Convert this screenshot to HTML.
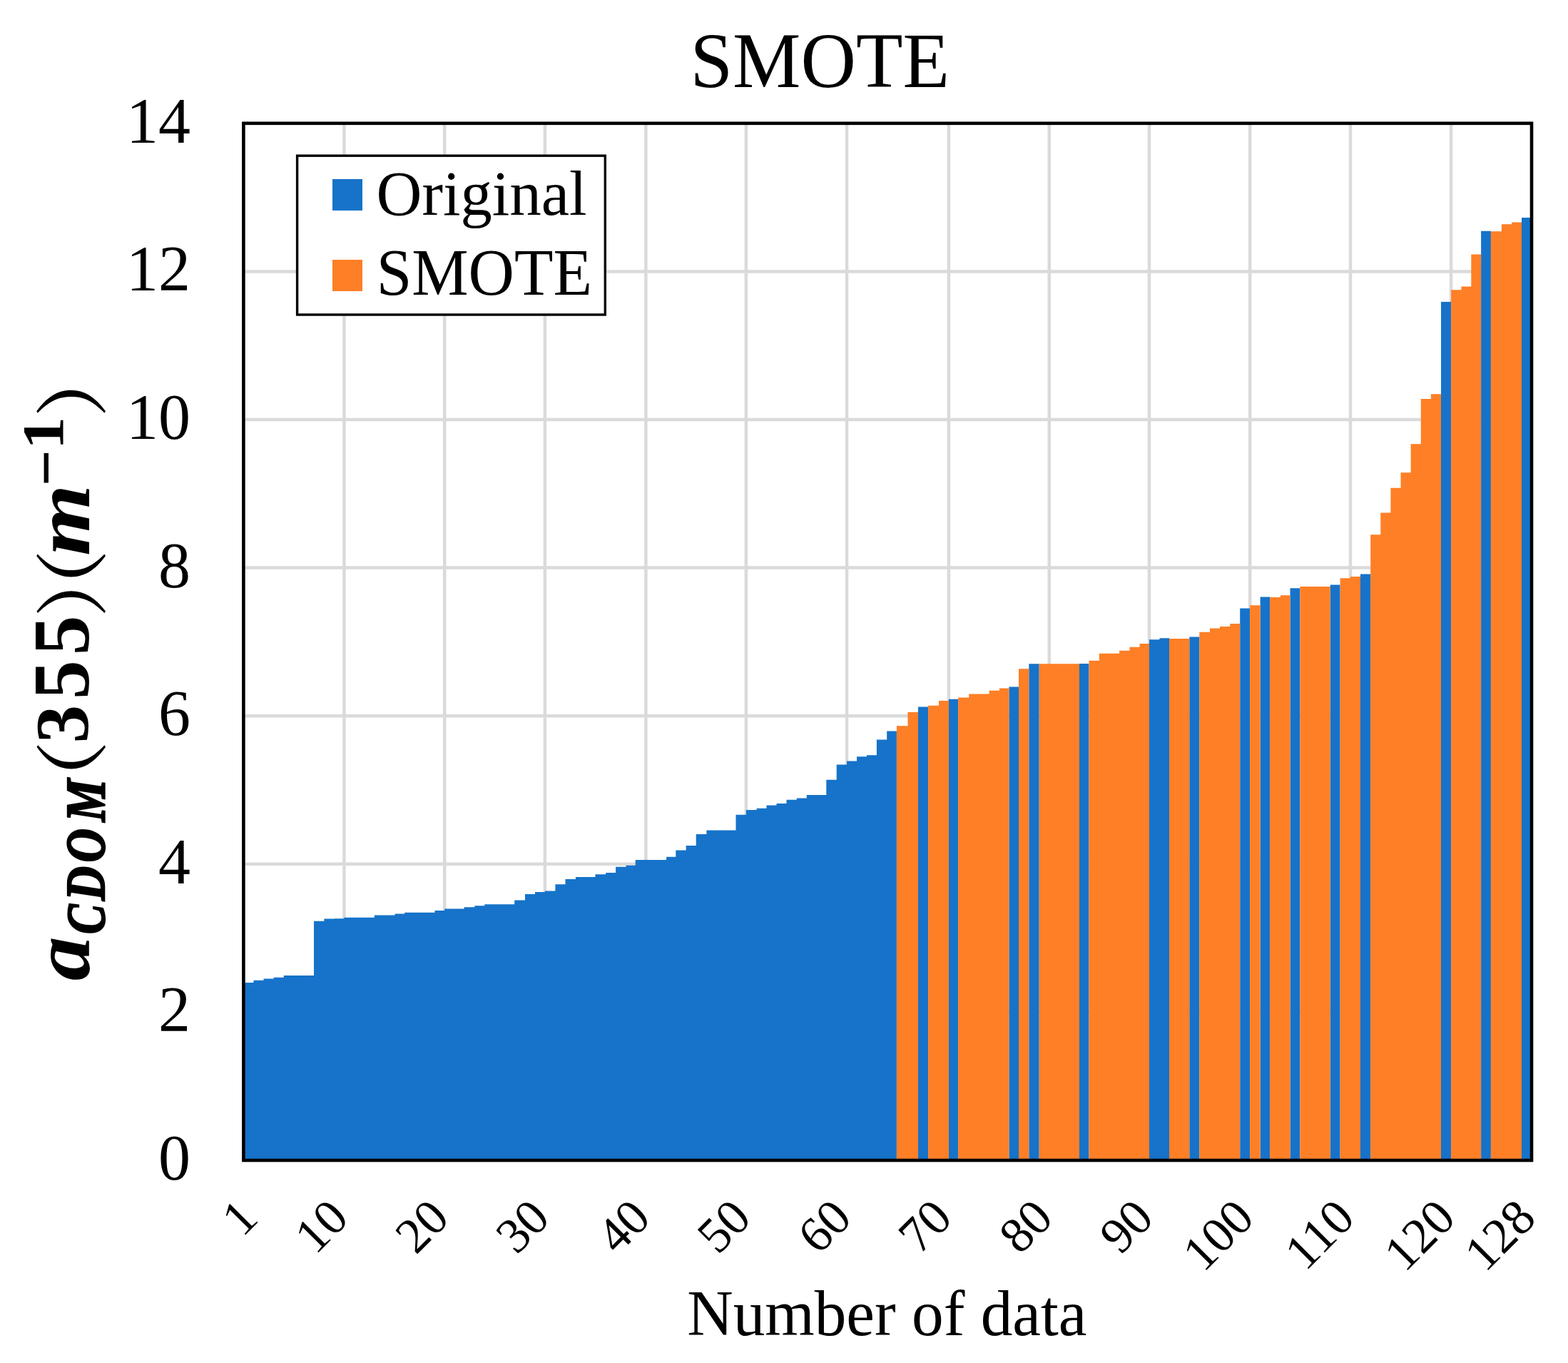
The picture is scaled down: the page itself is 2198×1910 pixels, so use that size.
<!DOCTYPE html><html><head><meta charset="utf-8"><title>SMOTE</title><style>
html,body{margin:0;padding:0;background:#fff;}
body{width:2198px;height:1910px;overflow:hidden;}
svg{display:block;}
.t{font-family:"Liberation Serif","Times New Roman",serif;fill:#000;}
</style></head><body>
<svg width="2198" height="1910" viewBox="0 0 2198 1910">
<rect x="0" y="0" width="2198" height="1910" fill="#fff"/>
<path d="M482.45 172.80V1626.00M623.20 172.80V1626.00M763.90 172.80V1626.00M905.40 172.80V1626.00M1045.85 172.80V1626.00M1187.05 172.80V1626.00M1329.90 172.80V1626.00M1470.75 172.80V1626.00M1611.00 172.80V1626.00M1752.20 172.80V1626.00M1893.00 172.80V1626.00M2034.10 172.80V1626.00M341.40 1418.40H2147.00M341.40 1210.80H2147.00M341.40 1003.20H2147.00M341.40 795.60H2147.00M341.40 588.00H2147.00M341.40 380.40H2147.00" stroke="#dadada" stroke-width="4.5" fill="none"/>
<path d="M341.40 1626.00V1376.90H355.49V1626.00ZM355.49 1626.00V1373.70H369.57V1626.00ZM369.57 1626.00V1371.50H383.66V1626.00ZM383.66 1626.00V1369.70H397.74V1626.00ZM397.74 1626.00V1367.10H411.83V1626.00ZM411.83 1626.00V1367.10H425.91V1626.00ZM425.91 1626.00V1367.10H440.00V1626.00ZM440.00 1626.00V1290.70H454.40V1626.00ZM454.40 1626.00V1287.50H468.42V1626.00ZM468.42 1626.00V1287.30H482.45V1626.00ZM482.45 1626.00V1285.70H496.60V1626.00ZM496.60 1626.00V1285.70H510.75V1626.00ZM510.75 1626.00V1285.70H524.90V1626.00ZM524.90 1626.00V1282.60H539.20V1626.00ZM539.20 1626.00V1282.60H553.50V1626.00ZM553.50 1626.00V1280.60H567.20V1626.00ZM567.20 1626.00V1278.70H581.30V1626.00ZM581.30 1626.00V1278.70H595.40V1626.00ZM595.40 1626.00V1278.70H609.50V1626.00ZM609.50 1626.00V1276.00H623.20V1626.00ZM623.20 1626.00V1273.60H636.90V1626.00ZM636.90 1626.00V1273.50H650.60V1626.00ZM650.60 1626.00V1271.20H665.30V1626.00ZM665.30 1626.00V1269.20H679.30V1626.00ZM679.30 1626.00V1267.30H693.27V1626.00ZM693.27 1626.00V1267.30H707.23V1626.00ZM707.23 1626.00V1267.30H721.20V1626.00ZM721.20 1626.00V1261.50H736.00V1626.00ZM736.00 1626.00V1252.90H750.00V1626.00ZM750.00 1626.00V1250.00H763.90V1626.00ZM763.90 1626.00V1248.60H778.40V1626.00ZM778.40 1626.00V1239.20H792.50V1626.00ZM792.50 1626.00V1232.00H806.90V1626.00ZM806.90 1626.00V1229.10H820.65V1626.00ZM820.65 1626.00V1229.10H834.40V1626.00ZM834.40 1626.00V1225.30H849.20V1626.00ZM849.20 1626.00V1222.90H863.10V1626.00ZM863.10 1626.00V1214.80H877.50V1626.00ZM877.50 1626.00V1212.80H890.70V1626.00ZM890.70 1626.00V1205.10H905.40V1626.00ZM905.40 1626.00V1205.10H919.75V1626.00ZM919.75 1626.00V1205.10H934.10V1626.00ZM934.10 1626.00V1200.80H947.30V1626.00ZM947.30 1626.00V1191.50H961.70V1626.00ZM961.70 1626.00V1184.90H975.70V1626.00ZM975.70 1626.00V1169.00H990.40V1626.00ZM990.40 1626.00V1163.50H1004.10V1626.00ZM1004.10 1626.00V1163.50H1017.80V1626.00ZM1017.80 1626.00V1163.50H1031.50V1626.00ZM1031.50 1626.00V1141.70H1045.85V1626.00ZM1045.85 1626.00V1135.10H1060.60V1626.00ZM1060.60 1626.00V1132.70H1074.50V1626.00ZM1074.50 1626.00V1128.50H1088.50V1626.00ZM1088.50 1626.00V1126.10H1102.50V1626.00ZM1102.50 1626.00V1120.70H1116.80V1626.00ZM1116.80 1626.00V1118.40H1130.80V1626.00ZM1130.80 1626.00V1114.10H1144.55V1626.00ZM1144.55 1626.00V1114.10H1158.30V1626.00ZM1158.30 1626.00V1092.80H1172.70V1626.00ZM1172.70 1626.00V1071.60H1187.05V1626.00ZM1187.05 1626.00V1066.60H1201.00V1626.00ZM1201.00 1626.00V1060.20H1214.90V1626.00ZM1214.90 1626.00V1058.30H1228.90V1626.00ZM1228.90 1626.00V1036.60H1243.20V1626.00ZM1243.20 1626.00V1024.50H1256.90V1626.00ZM1287.00 1626.00V990.60H1301.10V1626.00ZM1329.90 1626.00V979.70H1343.10V1626.00ZM1414.40 1626.00V962.60H1428.00V1626.00ZM1442.30 1626.00V930.30H1456.70V1626.00ZM1513.00 1626.00V930.00H1526.50V1626.00ZM1611.00 1626.00V896.30H1625.40V1626.00ZM1625.40 1626.00V894.30H1639.00V1626.00ZM1667.30 1626.00V892.50H1681.30V1626.00ZM1738.20 1626.00V852.40H1752.20V1626.00ZM1766.60 1626.00V836.50H1780.10V1626.00ZM1808.50 1626.00V824.30H1822.40V1626.00ZM1864.70 1626.00V819.50H1878.60V1626.00ZM1907.00 1626.00V804.50H1921.20V1626.00ZM2020.00 1626.00V423.10H2034.10V1626.00ZM2076.10 1626.00V323.80H2089.90V1626.00ZM2133.00 1626.00V305.00H2147.00V1626.00Z" fill="#1673c9" shape-rendering="auto"/>
<path d="M1256.90 1626.00V1017.20H1272.50V1626.00ZM1272.50 1626.00V998.00H1287.00V1626.00ZM1301.10 1626.00V988.70H1316.00V1626.00ZM1316.00 1626.00V982.10H1329.90V1626.00ZM1343.10 1626.00V977.40H1358.20V1626.00ZM1358.20 1626.00V972.40H1372.40V1626.00ZM1372.40 1626.00V972.40H1386.60V1626.00ZM1386.60 1626.00V967.80H1400.90V1626.00ZM1400.90 1626.00V964.50H1414.40V1626.00ZM1428.00 1626.00V937.30H1442.30V1626.00ZM1456.70 1626.00V930.30H1470.75V1626.00ZM1470.75 1626.00V930.30H1484.83V1626.00ZM1484.83 1626.00V930.30H1498.92V1626.00ZM1498.92 1626.00V930.30H1513.00V1626.00ZM1526.50 1626.00V925.70H1540.80V1626.00ZM1540.80 1626.00V915.70H1554.95V1626.00ZM1554.95 1626.00V915.70H1569.10V1626.00ZM1569.10 1626.00V911.80H1583.50V1626.00ZM1583.50 1626.00V906.70H1597.50V1626.00ZM1597.50 1626.00V902.10H1611.00V1626.00ZM1639.00 1626.00V895.10H1653.15V1626.00ZM1653.15 1626.00V895.10H1667.30V1626.00ZM1681.30 1626.00V885.80H1696.00V1626.00ZM1696.00 1626.00V880.40H1710.00V1626.00ZM1710.00 1626.00V878.00H1724.30V1626.00ZM1724.30 1626.00V874.10H1738.20V1626.00ZM1752.20 1626.00V848.20H1766.60V1626.00ZM1780.10 1626.00V836.90H1794.90V1626.00ZM1794.90 1626.00V834.20H1808.50V1626.00ZM1822.40 1626.00V821.90H1836.50V1626.00ZM1836.50 1626.00V821.90H1850.60V1626.00ZM1850.60 1626.00V821.90H1864.70V1626.00ZM1878.60 1626.00V810.20H1893.00V1626.00ZM1893.00 1626.00V807.90H1907.00V1626.00ZM1921.20 1626.00V749.30H1935.31V1626.00ZM1935.31 1626.00V718.50H1949.43V1626.00ZM1949.43 1626.00V683.80H1963.54V1626.00ZM1963.54 1626.00V662.20H1977.66V1626.00ZM1977.66 1626.00V622.20H1991.77V1626.00ZM1991.77 1626.00V559.00H2005.89V1626.00ZM2005.89 1626.00V552.20H2020.00V1626.00ZM2034.10 1626.00V406.20H2048.40V1626.00ZM2048.40 1626.00V401.60H2062.30V1626.00ZM2062.30 1626.00V356.60H2076.10V1626.00ZM2089.90 1626.00V324.20H2104.90V1626.00ZM2104.90 1626.00V314.20H2119.20V1626.00ZM2119.20 1626.00V311.40H2133.00V1626.00Z" fill="#fe7f26" shape-rendering="auto"/>
<rect x="341.40" y="172.80" width="1805.60" height="1453.20" fill="none" stroke="#000" stroke-width="4.6"/>
<text class="t" x="267" y="1653.00" font-size="90" text-anchor="end">0</text>
<text class="t" x="267" y="1445.40" font-size="90" text-anchor="end">2</text>
<text class="t" x="267" y="1237.80" font-size="90" text-anchor="end">4</text>
<text class="t" x="267" y="1030.20" font-size="90" text-anchor="end">6</text>
<text class="t" x="267" y="822.60" font-size="90" text-anchor="end">8</text>
<text class="t" x="267" y="615.00" font-size="90" text-anchor="end">10</text>
<text class="t" x="267" y="407.40" font-size="90" text-anchor="end">12</text>
<text class="t" x="267" y="199.80" font-size="90" text-anchor="end">14</text>
<text class="t" x="0" y="0" font-size="70" text-anchor="end" transform="translate(364.51 1710.00) rotate(-45)">1</text>
<text class="t" x="0" y="0" font-size="70" text-anchor="end" transform="translate(491.46 1710.00) rotate(-45)">10</text>
<text class="t" x="0" y="0" font-size="70" text-anchor="end" transform="translate(632.52 1710.00) rotate(-45)">20</text>
<text class="t" x="0" y="0" font-size="70" text-anchor="end" transform="translate(773.59 1710.00) rotate(-45)">30</text>
<text class="t" x="0" y="0" font-size="70" text-anchor="end" transform="translate(914.65 1710.00) rotate(-45)">40</text>
<text class="t" x="0" y="0" font-size="70" text-anchor="end" transform="translate(1055.71 1710.00) rotate(-45)">50</text>
<text class="t" x="0" y="0" font-size="70" text-anchor="end" transform="translate(1196.78 1710.00) rotate(-45)">60</text>
<text class="t" x="0" y="0" font-size="70" text-anchor="end" transform="translate(1337.84 1710.00) rotate(-45)">70</text>
<text class="t" x="0" y="0" font-size="70" text-anchor="end" transform="translate(1478.90 1710.00) rotate(-45)">80</text>
<text class="t" x="0" y="0" font-size="70" text-anchor="end" transform="translate(1619.96 1710.00) rotate(-45)">90</text>
<text class="t" x="0" y="0" font-size="70" text-anchor="end" transform="translate(1761.03 1710.00) rotate(-45)">100</text>
<text class="t" x="0" y="0" font-size="70" text-anchor="end" transform="translate(1902.09 1710.00) rotate(-45)">110</text>
<text class="t" x="0" y="0" font-size="70" text-anchor="end" transform="translate(2043.15 1710.00) rotate(-45)">120</text>
<text class="t" x="0" y="0" font-size="70" text-anchor="end" transform="translate(2156.00 1710.00) rotate(-45)">128</text>
<text class="t" font-size="110" transform="matrix(0.9750 0 0 0.9986 967.47 122.40)">SMOTE</text>
<text class="t" font-size="91" transform="matrix(0.9811 0 0 0.9954 963.16 1871.30)">Number of data</text>
<rect x="416.6" y="218.2" width="431.7" height="222.8" fill="#fff" stroke="#000" stroke-width="3.4"/>
<rect x="466" y="251" width="42" height="44" fill="#1673c9"/>
<rect x="466" y="364" width="42" height="44" fill="#fe7f26"/>
<text class="t" font-size="91" transform="matrix(0.9735 0 0 0.9807 527.51 300.87)">Original</text>
<text class="t" font-size="91" transform="matrix(0.9799 0 0 1.0145 527.72 413.09)">SMOTE</text>
<g transform="translate(125 1372.5) rotate(-90)">
<text class="t" style="font-family:'Noto Serif CJK SC',serif" font-size="100" transform="matrix(1.3667 0 0 0.9330 282.40 2.61)">(</text><text class="t" style="font-family:'Noto Serif CJK SC',serif" font-size="100" transform="matrix(1.2667 0 0 0.9330 509.70 2.61)">)</text><text class="t" style="font-family:'Noto Serif CJK SC',serif" font-size="100" transform="matrix(1.3125 0 0 0.9359 551.99 2.75)">(</text><text class="t" style="font-family:'Noto Serif CJK SC',serif" font-size="100" transform="matrix(1.3167 0 0 0.9359 789.65 2.75)">)</text><text class="t" font-weight="bold" font-style="italic" font-size="100" transform="matrix(1.2370 0 0 1.1333 -1.64 0.07)">a</text><text class="t" font-weight="bold" font-style="italic" stroke="#000" stroke-width="3" font-size="100" transform="matrix(0.6254 0 0 0.7638 63.55 20.57)">C</text><text class="t" font-weight="bold" font-style="italic" stroke="#000" stroke-width="3" font-size="100" transform="matrix(0.6644 0 0 0.7750 110.53 20.55)">D</text><text class="t" font-weight="bold" font-style="italic" stroke="#000" stroke-width="3" font-size="100" transform="matrix(0.6551 0 0 0.7841 163.99 21.03)">O</text><text class="t" font-weight="bold" font-style="italic" stroke="#000" stroke-width="3" font-size="100" transform="matrix(0.6708 0 0 0.7868 220.91 20.53)">M</text><text class="t" font-weight="bold" font-size="100" transform="matrix(1.0721 0 0 1.0612 331.01 -1.82)">3</text><text class="t" font-weight="bold" font-size="100" transform="matrix(1.0976 0 0 1.1121 392.61 -0.81)">5</text><text class="t" font-weight="bold" font-size="100" transform="matrix(1.1167 0 0 1.1121 454.23 -0.81)">5</text><text class="t" font-weight="bold" font-style="italic" font-size="100" transform="matrix(1.2887 0 0 1.1021 593.52 -0.30)">m</text><text class="t" font-weight="bold" font-size="100" transform="matrix(0.8957 0 0 0.9143 691.22 -30.37)">−</text><text class="t" font-weight="bold" font-size="100" transform="matrix(0.9189 0 0 0.8227 742.55 -37.50)">1</text>
</g>
</svg></body></html>
